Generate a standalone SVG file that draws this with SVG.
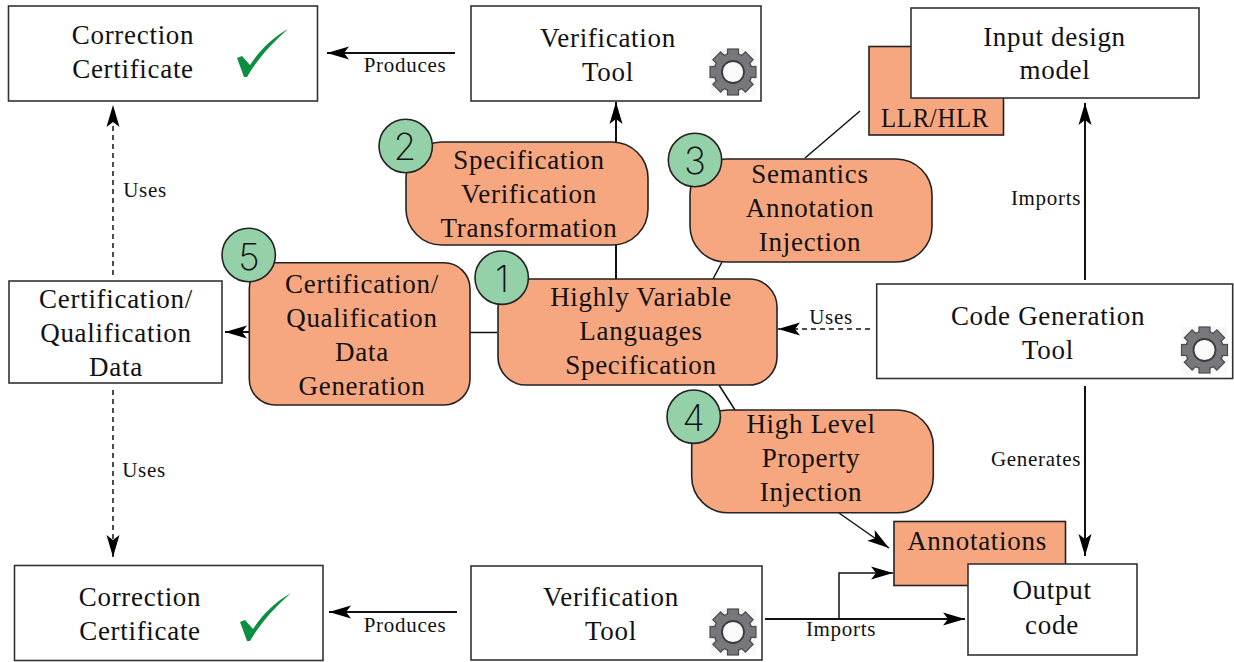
<svg xmlns="http://www.w3.org/2000/svg" width="1234" height="662" viewBox="0 0 1234 662">
<style>
text{font-family:"Liberation Serif","Times New Roman",serif;fill:#111;text-anchor:middle}
.t{font-size:27px;letter-spacing:.7px}
.s{font-size:21px;letter-spacing:.7px}
.n{font-family:"Inter",sans-serif;font-weight:200;font-size:37px}
.box{fill:#fff;stroke:#333;stroke-width:1.6}
.org{fill:#f7a77f;stroke:#222;stroke-width:1.6}
.num{fill:#94d1a9;stroke:#222;stroke-width:1.6}
.c{fill:none;stroke:#111;stroke-width:2}
.thin{fill:none;stroke:#111;stroke-width:1.5}
.d{fill:none;stroke:#111;stroke-width:1.5;stroke-dasharray:5 4}
.a{marker-end:url(#ah)}
</style>
<defs>
<marker id="ah" markerUnits="userSpaceOnUse" markerWidth="24" markerHeight="16" refX="22" refY="8" orient="auto">
<path d="M0 1.500 L22 8 L0 14.500 L5 8 Z" fill="#000"/>
</marker>
<g id="gear">
<rect x="-23" y="-23" width="46" height="46" fill="#f8f8f8"/>
<circle r="19" fill="#77777c" stroke="#4c4c50" stroke-width="1.2"/>
<g fill="#77777c" stroke="#4c4c50" stroke-width="1.2">
<rect x="-5.500" y="-23" width="11" height="7"/>
<rect x="-5.500" y="-23" width="11" height="7" transform="rotate(45)"/>
<rect x="-5.500" y="-23" width="11" height="7" transform="rotate(90)"/>
<rect x="-5.500" y="-23" width="11" height="7" transform="rotate(135)"/>
<rect x="-5.500" y="-23" width="11" height="7" transform="rotate(180)"/>
<rect x="-5.500" y="-23" width="11" height="7" transform="rotate(225)"/>
<rect x="-5.500" y="-23" width="11" height="7" transform="rotate(270)"/>
<rect x="-5.500" y="-23" width="11" height="7" transform="rotate(315)"/>
</g>
<circle r="18" fill="#77777c"/>
<circle r="11" fill="#fafafa" stroke="#3c3c40" stroke-width="1.8"/>
</g>
<path id="tick" d="M-26 2 L-21 0 L-13 9 C-3 -6 9 -18 25 -27 C7 -11 -6 4 -16 21 L-19 21 Z" fill="#0d8f41"/>
</defs>
<g id="connectors">
<path class="c a" d="M616 279V102"/>
<path class="c a" d="M455 53H327"/>
<path class="d a" d="M113 275V105"/>
<path class="d a" d="M113 390V557"/>
<path class="thin" d="M497 332.500H470"/>
<path class="c a" d="M249 332H225"/>
<path class="d a" d="M870 329H778"/>
<path class="c a" d="M1085 280V103"/>
<path class="c a" d="M1085 386V556"/>
<path class="thin" d="M860 111L805 158"/>
<path class="thin" d="M722 262L713 279"/>
<path class="thin" d="M719 385L735 410"/>
<path class="thin a" d="M839 513L889 548"/>
<path class="c a" d="M457 612H329"/>
<path class="c a" d="M765 619H965"/>
<path class="thin a" d="M839 619V573H893"/>
</g>
<g id="correction-top"><rect class="box" x="8.500" y="6" width="309" height="95"/><text class="t" x="133" y="44">Correction</text><text class="t" x="133" y="78">Certificate</text><use href="#tick" x="263" y="56"/></g>
<g id="verification-top"><rect class="box" x="471" y="6" width="290" height="95"/><text class="t" x="608" y="47">Verification</text><text class="t" x="608" y="81">Tool</text><use href="#gear" x="733" y="72"/></g>
<g id="llr"><rect class="org" x="869" y="46.500" width="134.500" height="88.500"/><text class="t" x="935" y="127" textLength="108" lengthAdjust="spacingAndGlyphs">LLR/HLR</text></g>
<g id="input-model"><rect class="box" x="911" y="8" width="288" height="90"/><text class="t" x="1054.500" y="46">Input design</text><text class="t" x="1055" y="79">model</text></g>
<g id="spec-node"><rect class="org" x="406" y="142" width="242" height="103" rx="36"/><text class="t" x="529" y="169">Specification</text><text class="t" x="529" y="203">Verification</text><text class="t" x="529" y="237">Transformation</text></g>
<g id="badge-2"><circle class="num" cx="405.700" cy="146" r="26.700"/><text class="n" x="405" y="160">2</text></g>
<g id="semantics-node"><rect class="org" x="690" y="159" width="242" height="103" rx="36"/><text class="t" x="810" y="183">Semantics</text><text class="t" x="810" y="217">Annotation</text><text class="t" x="810" y="251">Injection</text></g>
<g id="badge-3"><circle class="num" cx="695" cy="160" r="26.700"/><text class="n" x="695" y="174">3</text></g>
<g id="cert-data"><rect class="box" x="9" y="281" width="213" height="102"/><text class="t" x="116" y="308">Certification/</text><text class="t" x="116" y="342">Qualification</text><text class="t" x="116" y="376">Data</text></g>
<g id="cert-node"><rect class="org" x="249.300" y="262.700" width="220.700" height="142.300" rx="26"/><text class="t" x="362" y="293">Certification/</text><text class="t" x="362" y="327">Qualification</text><text class="t" x="362" y="361">Data</text><text class="t" x="362" y="395">Generation</text></g>
<g id="badge-5"><circle class="num" cx="248.700" cy="255" r="26.700"/><text class="n" x="249" y="269.500">5</text></g>
<g id="hvl-node"><rect class="org" x="498" y="279" width="279" height="106" rx="28"/><text class="t" x="641" y="306">Highly Variable</text><text class="t" x="641" y="340">Languages</text><text class="t" x="641" y="374">Specification</text></g>
<g id="badge-1"><circle class="num" cx="501.700" cy="277.700" r="26.700"/><text class="n" x="502" y="292">1</text></g>
<g id="codegen"><rect class="box" x="876.700" y="284" width="356" height="94.500"/><text class="t" x="1048" y="325">Code Generation</text><text class="t" x="1048" y="359">Tool</text><use href="#gear" x="1204.500" y="350"/></g>
<g id="high-level-node"><rect class="org" x="691.700" y="410" width="241.600" height="102.700" rx="36"/><text class="t" x="811" y="433">High Level</text><text class="t" x="811" y="467">Property</text><text class="t" x="811" y="501">Injection</text></g>
<g id="badge-4"><circle class="num" cx="693.700" cy="416.700" r="26.700"/><text class="n" x="693.500" y="431">4</text></g>
<g id="annotations"><rect class="org" x="894" y="521.500" width="171.500" height="64"/><text class="t" x="977" y="550">Annotations</text></g>
<g id="output-code"><rect class="box" x="968" y="564" width="169" height="91"/><text class="t" x="1052" y="599">Output</text><text class="t" x="1052" y="634">code</text></g>
<g id="correction-bottom"><rect class="box" x="14.500" y="565.500" width="308.500" height="95"/><text class="t" x="140" y="606">Correction</text><text class="t" x="140" y="640">Certificate</text><use href="#tick" x="266" y="620"/></g>
<g id="verification-bottom"><rect class="box" x="471" y="566" width="291" height="94"/><text class="t" x="611" y="606">Verification</text><text class="t" x="611" y="640">Tool</text><use href="#gear" x="733" y="632"/></g>
<g id="labels">
<text class="s" x="405" y="72">Produces</text>
<text class="s" x="145" y="197">Uses</text>
<text class="s" x="144" y="477">Uses</text>
<text class="s" x="831" y="324">Uses</text>
<text class="s" x="1046" y="205">Imports</text>
<text class="s" x="1036" y="466">Generates</text>
<text class="s" x="405" y="632">Produces</text>
<text class="s" x="841" y="636">Imports</text>
</g>
</svg>
